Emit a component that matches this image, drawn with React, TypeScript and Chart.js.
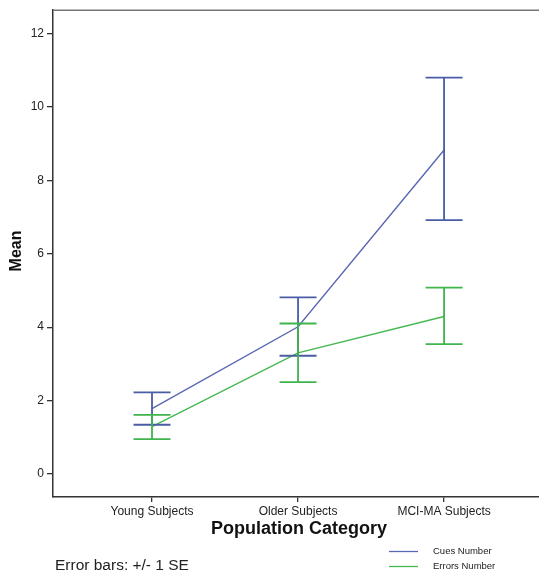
import React, { useEffect, useRef } from "react";
import { Chart, registerables } from "chart.js";

Chart.register(...registerables);

const categories = ["Young Subjects", "Older Subjects", "MCI-MA Subjects"];
const seriesNames = ["Cues Number", "Errors Number"];
const cuesMean = [1.78, 4.01, 8.83];
const cuesLow = [1.34, 3.22, 6.92];
const cuesHigh = [2.22, 4.81, 10.8];
const errorsMean = [1.29, 3.3, 4.29];
const errorsLow = [0.95, 2.5, 3.54];
const errorsHigh = [1.61, 4.1, 5.08];
const yTicks = [0, 2, 4, 6, 8, 10, 12];

const BLUE_LINE = "#5a67b3";
const BLUE_BAR = "#4a5ca6";
const GREEN_LINE = "#45b852";
const GREEN_BAR = "#3fb54c";
const FONT = "'Liberation Sans', Arial, sans-serif";

export default function App() {
  const ref = useRef<HTMLCanvasElement | null>(null);

  useEffect(() => {
    if (!ref.current) return;
    const bars = [
      { low: cuesLow, high: cuesHigh, color: BLUE_BAR },
      { low: errorsLow, high: errorsHigh, color: GREEN_BAR },
    ];
    const extras = {
      id: "extras",
      afterDatasetsDraw(chart: any) {
        const ctx = chart.ctx;
        const xs = chart.scales.x;
        const ys = chart.scales.y;
        const ca = chart.chartArea;
        ctx.save();
        bars.forEach((b) => {
          ctx.strokeStyle = b.color;
          ctx.lineWidth = 1.8;
          b.low.forEach((lo: number, i: number) => {
            const x = xs.getPixelForValue(i);
            const y1 = ys.getPixelForValue(lo);
            const y2 = ys.getPixelForValue(b.high[i]);
            ctx.beginPath();
            ctx.moveTo(x, y1);
            ctx.lineTo(x, y2);
            ctx.moveTo(x - 18.5, y1);
            ctx.lineTo(x + 18.5, y1);
            ctx.moveTo(x - 18.5, y2);
            ctx.lineTo(x + 18.5, y2);
            ctx.stroke();
          });
        });
        ctx.strokeStyle = "#777";
        ctx.lineWidth = 1.5;
        ctx.beginPath();
        ctx.moveTo(ca.left, ca.top);
        ctx.lineTo(ca.right, ca.top);
        ctx.stroke();
        ctx.restore();
      },
      afterDraw(chart: any) {
        const ctx = chart.ctx;
        ctx.save();
        ctx.fillStyle = "#111";
        ctx.save();
        ctx.translate(17, 251);
        ctx.rotate(-Math.PI / 2);
        ctx.font = `bold 16px ${FONT}`;
        ctx.textAlign = "center";
        ctx.textBaseline = "middle";
        ctx.fillText("Mean", 0, 0);
        ctx.restore();
        ctx.font = `bold 18px ${FONT}`;
        ctx.textAlign = "center";
        ctx.textBaseline = "middle";
        ctx.fillText("Population Category", 299, 529);
        ctx.font = `15.5px ${FONT}`;
        ctx.textAlign = "left";
        ctx.fillStyle = "#222";
        ctx.fillText("Error bars: +/- 1 SE", 55, 566);
        const ds = chart.data.datasets;
        const rows = [551, 566];
        ds.forEach((d: any, i: number) => {
          ctx.strokeStyle = d.borderColor;
          ctx.lineWidth = 1.3;
          ctx.beginPath();
          ctx.moveTo(389, rows[i] + 0.5);
          ctx.lineTo(418, rows[i] + 0.5);
          ctx.stroke();
          ctx.fillStyle = "#222";
          ctx.font = `9.5px ${FONT}`;
          ctx.textAlign = "left";
          ctx.textBaseline = "middle";
          ctx.fillText(d.label, 433, rows[i]);
        });
        ctx.restore();
      },
    };

    const chart = new Chart(ref.current, {
      type: "line",
      data: {
        datasets: [
          {
            label: seriesNames[0],
            data: cuesMean.map((v, i) => ({ x: i, y: v })),
            borderColor: BLUE_LINE,
            borderWidth: 1.4,
            pointRadius: 0,
            tension: 0,
          },
          {
            label: seriesNames[1],
            data: errorsMean.map((v, i) => ({ x: i, y: v })),
            borderColor: GREEN_LINE,
            borderWidth: 1.4,
            pointRadius: 0,
            tension: 0,
          },
        ],
      },
      options: {
        responsive: false,
        animation: false,
        layout: { padding: { top: 9, right: 0, bottom: 0, left: 0 } },
        plugins: { legend: { display: false }, tooltip: { enabled: false } },
        scales: {
          x: {
            type: "linear",
            min: -0.678,
            max: 2.65,
            afterBuildTicks: (s: any) => {
              s.ticks = categories.map((_, i) => ({ value: i }));
            },
            afterFit: (s: any) => {
              s.height = 79;
            },
            ticks: {
              callback: (v: any) => categories[v] ?? "",
              color: "#222",
              font: { family: FONT, size: 12 },
              padding: 2,
              maxRotation: 0,
              autoSkip: false,
            },
            grid: { drawOnChartArea: false, color: "#333", tickLength: 5, lineWidth: 1.3 },
            border: { display: true, color: "#333", width: 1.5 },
          },
          y: {
            type: "linear",
            min: -0.63,
            max: 12.64,
            afterBuildTicks: (s: any) => {
              s.ticks = yTicks.map((v) => ({ value: v }));
            },
            afterFit: (s: any) => {
              s.width = 53;
            },
            ticks: {
              color: "#222",
              font: { family: FONT, size: 12 },
              padding: 3,
            },
            grid: { drawOnChartArea: false, color: "#333", tickLength: 6, lineWidth: 1.3 },
            border: { display: true, color: "#333", width: 1.5 },
          },
        },
      },
      plugins: [extras],
    });
    return () => chart.destroy();
  }, []);

  return (
    <div style={{ position: "fixed", left: 0, top: 0, width: 539, height: 576, background: "#fff" }}>
      <canvas ref={ref} width={539} height={576} style={{ display: "block" }} />
    </div>
  );
}
